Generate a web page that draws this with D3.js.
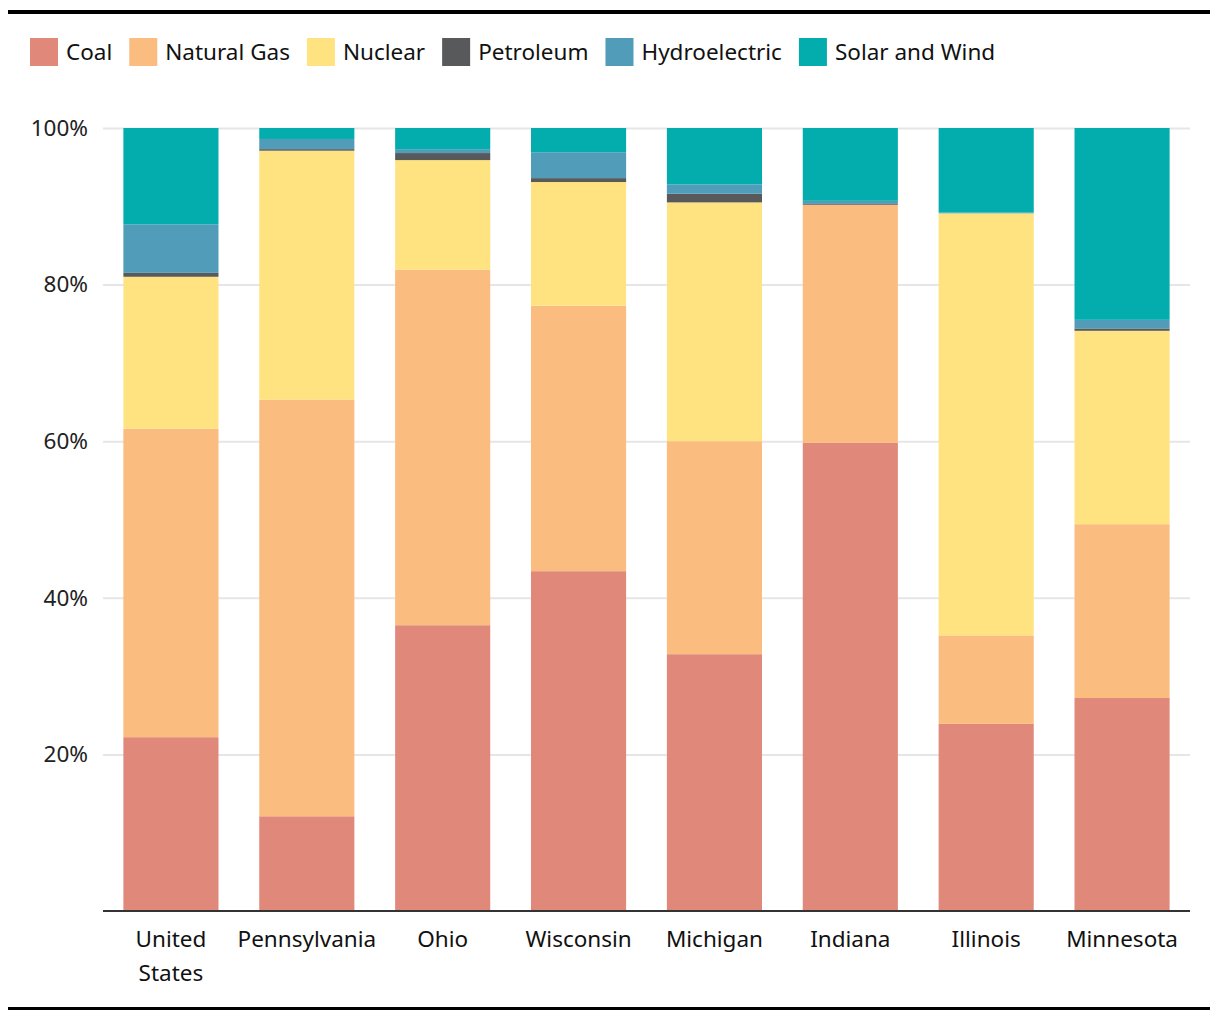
<!DOCTYPE html>
<html>
<head>
<meta charset="utf-8">
<script src="https://cdn.jsdelivr.net/npm/d3@7"></script>
<style>
  html, body { margin: 0; padding: 0; background: #fff; }
  svg { display: block; font-family: "Noto Sans", "Lato", sans-serif; }
</style>
</head>
<body>
<svg id="chart" width="1220" height="1020"></svg>
<script>
const categories = ["United States", "Pennsylvania", "Ohio", "Wisconsin", "Michigan", "Indiana", "Illinois", "Minnesota"];
const seriesNames = ["Coal", "Natural Gas", "Nuclear", "Petroleum", "Hydroelectric", "Solar and Wind"];
const seriesColors = ["#E0897B", "#FBBC7F", "#FFE381", "#58595B", "#519CB9", "#03ADAD"];

const coal        = [22.2, 12.1, 36.5, 43.4, 32.8, 59.8, 23.9, 27.2];
const naturalGas  = [39.4, 53.2, 45.4, 33.9, 27.2, 30.4, 11.3, 22.2];
const nuclear     = [19.4, 31.8, 14.0, 15.8, 30.5,  0.0, 53.9, 24.7];
const petroleum   = [ 0.5,  0.2,  0.9,  0.5,  1.1,  0.1,  0.0,  0.3];
const hydro       = [ 6.2,  1.3,  0.5,  3.3,  1.2,  0.4,  0.1,  1.1];
const solarWind   = [12.3,  1.4,  2.7,  3.1,  7.2,  9.3, 10.9, 24.5];

const yTicks = [0, 20, 40, 60, 80, 100];

(function () {
const FONT = "'Noto Sans', Lato, sans-serif";
const FS = 22.5;
const seriesValues = [coal, naturalGas, nuclear, petroleum, hydro, solarWind];
const rows = categories.map((c, i) => {
  const r = { category: c };
  seriesNames.forEach((s, j) => r[s] = seriesValues[j][i]);
  return r;
});

const svg = d3.select("#chart");
const mLeft = 103, mRight = 1190, mTop = 128, mBottom = 911;

// frame rules
svg.append("rect").attr("x", 8).attr("y", 10).attr("width", 1202).attr("height", 4).attr("fill", "#000");
svg.append("rect").attr("x", 8).attr("y", 1007).attr("width", 1202).attr("height", 3).attr("fill", "#000");

const x = d3.scaleBand().domain(categories).range([mLeft, mRight]).paddingInner(0.3).paddingOuter(0.15);
const y = d3.scaleLinear().domain([0, 100]).range([mBottom, mTop]);
const color = d3.scaleOrdinal().domain(seriesNames).range(seriesColors);

// grid
const grid = svg.append("g").attr("transform", `translate(${mLeft},0)`)
  .call(d3.axisLeft(y).tickValues(yTicks.filter(t => t > 0)).tickSize(-(mRight - mLeft)).tickFormat(""));
grid.select(".domain").remove();
grid.selectAll("line").attr("stroke", "#e6e6e6").attr("stroke-width", 2);

// y labels
const yAxis = svg.append("g").attr("transform", `translate(${mLeft - 12},0)`)
  .call(d3.axisLeft(y).tickValues(yTicks.filter(t => t > 0)).tickSize(0).tickFormat(d => d + "%"));
yAxis.select(".domain").remove();
yAxis.selectAll("text").attr("font-size", FS).attr("fill", "#222").attr("font-family", FONT);

// bars
const stack = d3.stack().keys(seriesNames)(rows);
svg.append("g").selectAll("g").data(stack).join("g")
  .attr("fill", d => color(d.key))
  .selectAll("rect").data(d => d).join("rect")
  .attr("x", d => x(d.data.category))
  .attr("width", x.bandwidth())
  .attr("y", d => y(Math.min(100, d[1])))
  .attr("height", d => Math.max(0, y(d[0]) - y(Math.min(100, d[1]))));

// x axis
const xAxis = svg.append("g").attr("transform", `translate(0,${mBottom})`)
  .call(d3.axisBottom(x).tickSize(0).tickPadding(0).tickSizeOuter(0));
xAxis.select(".domain").attr("stroke", "#333").attr("stroke-width", 2)
  .attr("d", `M${mLeft},0H${mRight}`);
xAxis.selectAll(".tick text").each(function(d) {
  const t = d3.select(this);
  t.text(null).attr("font-size", FS).attr("fill", "#111").attr("font-family", FONT).attr("y", 0).attr("dy", null);
  const parts = d === "United States" ? ["United", "States"] : [d];
  parts.forEach((p, i) => t.append("tspan").attr("x", 0).attr("y", 36 + i * 34).text(p));
});

// legend
const legend = svg.append("g").attr("transform", "translate(30,38)");
let lx = 0;
seriesNames.forEach(name => {
  const g = legend.append("g").attr("transform", `translate(${lx},0)`);
  g.append("rect").attr("width", 28).attr("height", 28).attr("fill", color(name));
  const txt = g.append("text").attr("x", 36).attr("y", 22).attr("font-size", FS).attr("font-family", FONT).attr("fill", "#111").text(name);
  lx += 36 + txt.node().getComputedTextLength() + 17;
});
})();
</script>
</body>
</html>
